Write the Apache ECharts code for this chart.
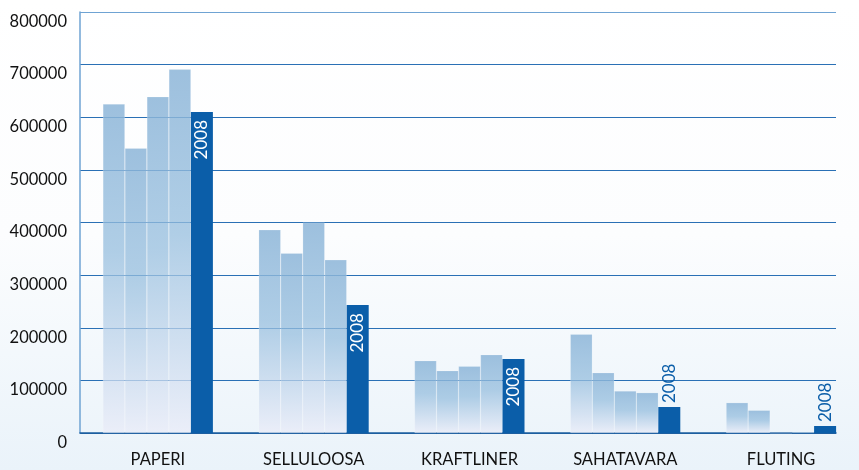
<!DOCTYPE html>
<html><head><meta charset="utf-8">
<script src="https://cdn.jsdelivr.net/npm/echarts@6/dist/echarts.min.js"></script>
<style>html,body{margin:0;padding:0;}#c{width:859px;height:470px;}</style>
</head><body><div id="c"></div>
<script>
const categories = ['PAPERI', 'SELLULOOSA', 'KRAFTLINER', 'SAHATAVARA', 'FLUTING'];
const s1 = [625000, 386000, 137500, 187600, 57600];
const s2 = [541000, 341600, 118500, 114600, 43100];
const s3 = [639000, 400000, 126800, 79800, 0];
const s4 = [691000, 329000, 148900, 76600, 2000];
const s2008 = [610000, 243000, 140700, 49400, 13300];
const yTicks = [0, 100000, 200000, 300000, 400000, 500000, 600000, 700000, 800000];
const labelInside = [true, true, true, false, false];

const font = 'Lato, "Noto Sans", sans-serif';
const lightColor = {
  type: 'linear', x: 0, y: 0, x2: 0, y2: 1,
  colorStops: [
    { offset: 0, color: 'rgba(140,181,216,0.85)' },
    { offset: 0.45, color: 'rgba(150,190,222,0.75)' },
    { offset: 1, color: 'rgba(234,236,248,0.75)' }
  ]
};
function lightSeries(data) {
  return {
    type: 'bar', xAxisIndex: 0, yAxisIndex: 0, data: data,
    barWidth: 22, barGap: '0%',
    itemStyle: { color: lightColor, borderColor: 'rgba(255,255,255,0.35)', borderWidth: 0.5 },
    z: 2
  };
}
const darkData = s2008.map((v, i) => ({
  value: v,
  label: labelInside[i] ? {
    show: true, position: 'insideTop', rotate: 90, align: 'right', verticalAlign: 'middle',
    distance: 8, color: '#ffffff', fontSize: 17, fontFamily: font, formatter: '2008'
  } : {
    show: true, position: 'top', rotate: 90, align: 'left', verticalAlign: 'middle',
    distance: 4, color: '#0b5ea9', fontSize: 17, fontFamily: font, formatter: '2008'
  }
}));

const chart = echarts.init(document.getElementById('c'));
chart.setOption({
  backgroundColor: {
    type: 'linear', x: 0, y: 0, x2: 0, y2: 1,
    colorStops: [{ offset: 0, color: '#ffffff' }, { offset: 0.5, color: '#fcfdfe' }, { offset: 1, color: '#eaf3fa' }]
  },
  animation: false,
  grid: [
    { left: 80, top: 12, width: 780, height: 421 },
    { left: 80, top: 12, width: 756, height: 421 }
  ],
  xAxis: [
    { type: 'category', gridIndex: 0, data: categories,
      axisLine: { show: false }, axisTick: { show: false },
      axisLabel: { color: '#111', fontSize: 16.5, fontFamily: font, margin: 18 } },
    { type: 'category', gridIndex: 1, data: categories,
      axisLine: { show: true, lineStyle: { color: '#1d5fa0', width: 1.5 } },
      axisTick: { show: false }, axisLabel: { show: false } }
  ],
  yAxis: [
    { type: 'value', gridIndex: 0, min: 0, max: 800000, interval: 100000,
      axisLine: { show: false }, axisTick: { show: false }, axisLabel: { show: false },
      splitLine: { show: false } },
    { type: 'value', gridIndex: 1, min: yTicks[0], max: yTicks[yTicks.length - 1], interval: 100000,
      axisLine: { show: true, lineStyle: { color: '#6fa3d3', width: 1.5 } },
      axisTick: { show: false },
      axisLabel: { color: '#111', fontSize: 16.5, fontFamily: font, margin: 13, verticalAlign: 'top',
        padding: [1, 0, 0, 0], formatter: v => String(v) },
      splitLine: { show: true, lineStyle: { color: ['#1d5fa0','#2a70b5','#2a70b5','#2a70b5','#2a70b5','#2a70b5','#2a70b5','#2a70b5','#6fa3d3'], width: 1.2 } } }
  ],
  series: [
    lightSeries(s1), lightSeries(s2), lightSeries(s3), lightSeries(s4),
    { type: 'bar', xAxisIndex: 0, yAxisIndex: 0, data: darkData, barWidth: 22, barGap: '0%',
      itemStyle: { color: '#0b5ea9' }, z: 3 },
    { type: 'bar', xAxisIndex: 1, yAxisIndex: 1, data: [] }
  ]
});
</script></body></html>
